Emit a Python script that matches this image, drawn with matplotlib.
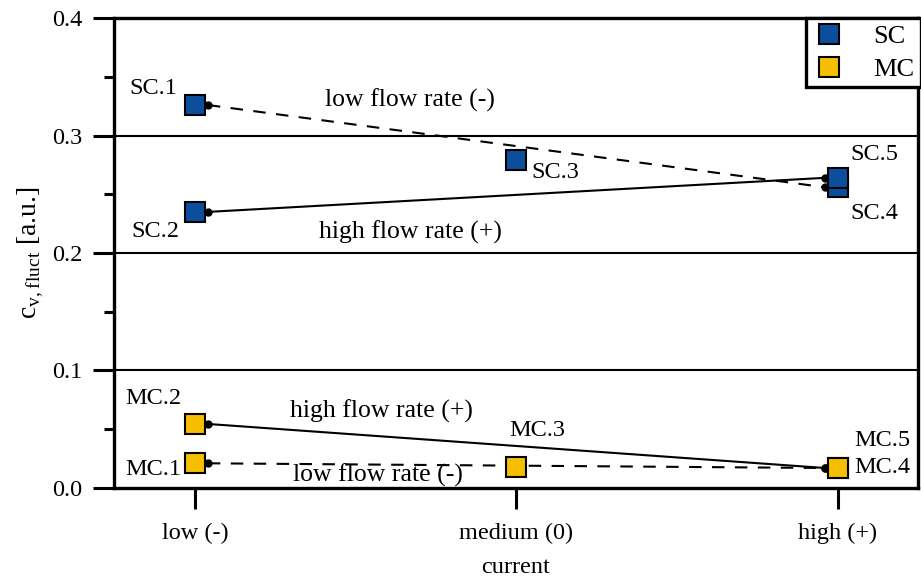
import matplotlib.pyplot as plt
from matplotlib.lines import Line2D

# categories on the x axis
categories = ['low (-)', 'medium (0)', 'high (+)']

# single-crystal (SC) and multi-crystal (MC) points: category index, value, label
sc_x = [0, 0, 1, 2, 2]
sc_y = [0.326, 0.235, 0.279, 0.256, 0.264]
sc_labels = ['SC.1', 'SC.2', 'SC.3', 'SC.4', 'SC.5']

mc_x = [0, 0, 1, 2, 2]
mc_y = [0.021, 0.0545, 0.018, 0.017, 0.017]
mc_labels = ['MC.1', 'MC.2', 'MC.3', 'MC.4', 'MC.5']

# connecting lines (low -> high current)
sc_low_flow = [0.326, 0.256]    # SC.1 -> SC.4
sc_high_flow = [0.235, 0.264]   # SC.2 -> SC.5
mc_low_flow = [0.021, 0.017]    # MC.1 -> MC.4
mc_high_flow = [0.0545, 0.017]  # MC.2 -> MC.5

blue = '#0b4f9c'
yellow = '#f6be00'

plt.rcParams['font.family'] = ['Liberation Serif', 'DejaVu Serif']
plt.rcParams['mathtext.fontset'] = 'custom'
plt.rcParams['mathtext.rm'] = 'Liberation Serif'
plt.rcParams['font.size'] = 17

fig = plt.figure(figsize=(9.21, 5.83), dpi=100)
ax = fig.add_axes([0.1238, 0.163, 0.8729, 0.806])

# lines start/end a bit beside the markers
off = 0.04
line_x = [0 + off, 2 - off]
for ys, ls in [(sc_low_flow, '--'), (sc_high_flow, '-'),
               (mc_low_flow, '--'), (mc_high_flow, '-')]:
    ax.plot(line_x, ys, color='black', linestyle=ls, lw=1.5,
            marker='o', markersize=5, zorder=3, dashes=(6, 5) if ls == '--' else ())

ax.plot(sc_x, sc_y, linestyle='none', marker='s', markersize=14,
        markerfacecolor=blue, markeredgecolor='black', markeredgewidth=1.5, zorder=4)
ax.plot(mc_x, mc_y, linestyle='none', marker='s', markersize=14,
        markerfacecolor=yellow, markeredgecolor='black', markeredgewidth=1.5, zorder=4)

# point labels: offset in pixels, alignment
sc_offsets = [(-42, 17, 'center'), (-40, -20, 'center'), (15, -12, 'left'),
              (13, -26, 'left'), (13, 23, 'left')]
mc_offsets = [(-42, -6, 'center'), (-42, 25, 'center'), (-7, 36, 'left'),
              (17, 1, 'left'), (17, 28, 'left')]
for xs, ys, labs, offs in [(sc_x, sc_y, sc_labels, sc_offsets),
                           (mc_x, mc_y, mc_labels, mc_offsets)]:
    for x, y, lab, (dx, dy, ha) in zip(xs, ys, labs, offs):
        ax.annotate(lab, (x, y), xytext=(dx, dy), textcoords='offset pixels',
                    ha=ha, va='center', fontsize=17.5)

ax.text(0.669, 0.330, 'low flow rate (-)', ha='center', va='center', fontsize=18.5)
ax.text(0.672, 0.218, 'high flow rate (+)', ha='center', va='center', fontsize=18.5)
ax.text(0.579, 0.0655, 'high flow rate (+)', ha='center', va='center', fontsize=18.5)
ax.text(0.569, 0.011, 'low flow rate (-)', ha='center', va='center', fontsize=18.5)

ax.set_xlim(-0.252, 2.25)
ax.set_ylim(0, 0.4)
ax.set_xticks(range(len(categories)))
ax.set_xticklabels(categories)
ax.set_yticks([0.0, 0.1, 0.2, 0.3, 0.4])
ax.set_yticklabels(['0.0', '0.1', '0.2', '0.3', '0.4'])
ax.set_yticks([0.05, 0.15, 0.25, 0.35], minor=True)
ax.tick_params(axis='both', which='major', direction='out', length=15, width=2.2,
               labelsize=17.5, pad=8)
ax.tick_params(axis='x', which='major', pad=10)
ax.tick_params(axis='y', which='minor', direction='out', length=7.5, width=2.2)
for sp in ax.spines.values():
    sp.set_linewidth(2.4)

for gy in [0.1, 0.2, 0.3]:
    ax.axhline(gy, color='black', lw=1.5, zorder=1)

ax.set_xlabel('current', fontsize=17.5, labelpad=9.5)
ax.set_ylabel(r'c$_\mathregular{v,fluct}$ [a.u.]', fontsize=20, labelpad=4)

handles = [Line2D([], [], linestyle='none', marker='s', markersize=15,
                  markerfacecolor=blue, markeredgecolor='black', markeredgewidth=1.5),
           Line2D([], [], linestyle='none', marker='s', markersize=15,
                  markerfacecolor=yellow, markeredgecolor='black', markeredgewidth=1.5)]
leg = ax.legend(handles, ['SC', 'MC'], loc='upper right', bbox_to_anchor=(1.004, 1.0),
                borderaxespad=0, fancybox=False, framealpha=1, fontsize=19,
                handlelength=1.2, handletextpad=1.1, borderpad=0.25, labelspacing=0.35)
leg.get_frame().set_edgecolor('black')
leg.get_frame().set_linewidth(2.4)

fig.savefig('out.png', dpi=100)
